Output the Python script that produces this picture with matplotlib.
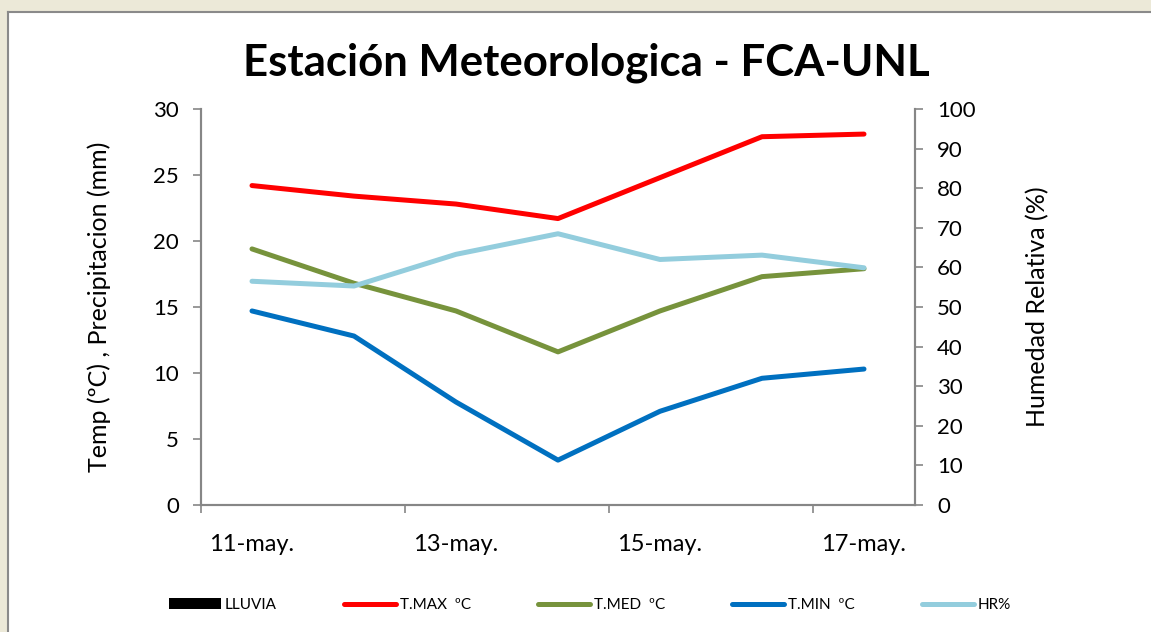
import matplotlib
matplotlib.use("Agg")
import matplotlib.pyplot as plt
from matplotlib.patches import Rectangle
from matplotlib.lines import Line2D

plt.rcParams['font.family'] = ['Lato', 'DejaVu Sans']

dates = ["11-may.", "12-may.", "13-may.", "14-may.", "15-may.", "16-may.", "17-may."]
lluvia = [0, 0, 0, 0, 0, 0, 0]
t_max = [24.2, 23.4, 22.8, 21.7, 24.8, 27.9, 28.1]
t_med = [19.4, 16.8, 14.7, 11.6, 14.7, 17.3, 17.9]
t_min = [14.7, 12.8, 7.8, 3.4, 7.1, 9.6, 10.3]
hr = [56.5, 55.3, 63.3, 68.5, 62.0, 63.1, 59.9]

W, H = 1151, 632
fig = plt.figure(figsize=(W / 100, H / 100), dpi=100)
fig.patch.set_facecolor("white")

# window-like frame
fig.patches.append(Rectangle((0, 1 - 11 / H), 1, 11 / H, transform=fig.transFigure,
                             facecolor="#ECE9D8", edgecolor="none", zorder=0))
fig.patches.append(Rectangle((0, 0), 7 / W, 1, transform=fig.transFigure,
                             facecolor="#ECE9D8", edgecolor="none", zorder=0))
fig.lines.append(Line2D([8 / W, 8 / W], [0, 1 - 12 / H], transform=fig.transFigure,
                        color="#8A8A8A", lw=1.5))
fig.lines.append(Line2D([8 / W, 1], [1 - 12 / H, 1 - 12 / H], transform=fig.transFigure,
                        color="#8A8A8A", lw=1.5))

ax = fig.add_axes([201 / W, 1 - 505 / H, 714 / W, 396 / H])
ax2 = ax.twinx()

x = list(range(len(dates)))
gray = "#868686"

bars = ax.bar(x, lluvia, width=0.5, color="black", label="LLUVIA")
l1, = ax.plot(x, t_max, color="#FF0000", lw=3.6, solid_capstyle="round", label="T.MAX  ºC")
l2, = ax.plot(x, t_med, color="#77933C", lw=3.6, solid_capstyle="round", label="T.MED  ºC")
l3, = ax.plot(x, t_min, color="#0070C0", lw=3.6, solid_capstyle="round", label="T.MIN  ºC")
l4, = ax2.plot(x, hr, color="#93CDDD", lw=3.6, solid_capstyle="round", label="HR%")

ax.set_xlim(-0.5, len(dates) - 0.5)
ax.set_ylim(0, 30)
ax2.set_ylim(0, 100)
ax.set_yticks(range(0, 31, 5))
ax2.set_yticks(range(0, 101, 10))

ax.set_xticks([-0.5, 1.5, 3.5, 5.5])
ax.set_xticklabels([])
ax.set_xticks(x[::2], minor=True)
ax.set_xticklabels(dates[::2], minor=True)
ax.tick_params(axis="x", which="minor", length=0, pad=21, labelsize=17)
ax.tick_params(axis="x", which="major", length=6, width=1.2, color=gray, direction="out")
ax.tick_params(axis="y", length=6, width=1.2, color=gray, direction="out", labelsize=16, pad=10)
ax2.tick_params(axis="y", length=6, width=1.2, color=gray, direction="out", labelsize=16, pad=10)

for a in (ax, ax2):
    a.spines["top"].set_visible(False)
    for s in ("left", "right", "bottom"):
        a.spines[s].set_color(gray)
        a.spines[s].set_linewidth(1.5)

ax.set_ylabel("Temp (ºC) , Precipitacion (mm)", fontsize=18, labelpad=30)
ax2.set_ylabel("Humedad Relativa (%)", fontsize=18, labelpad=36)

fig.text(586 / W, 1 - 63 / H, "Estación Meteorologica - FCA-UNL", ha="center", va="center",
         fontsize=31.5, fontweight="bold")

fig.legend([bars, l1, l2, l3, l4], ["LLUVIA", "T.MAX  ºC", "T.MED  ºC", "T.MIN  ºC", "HR%"],
           loc="center", bbox_to_anchor=(590 / W, 1 - 605 / H), ncol=5, frameon=False,
           fontsize=11, handlelength=3.4, handletextpad=0.25, columnspacing=4.4)

fig.savefig("out.png", dpi=100, facecolor=fig.get_facecolor())
